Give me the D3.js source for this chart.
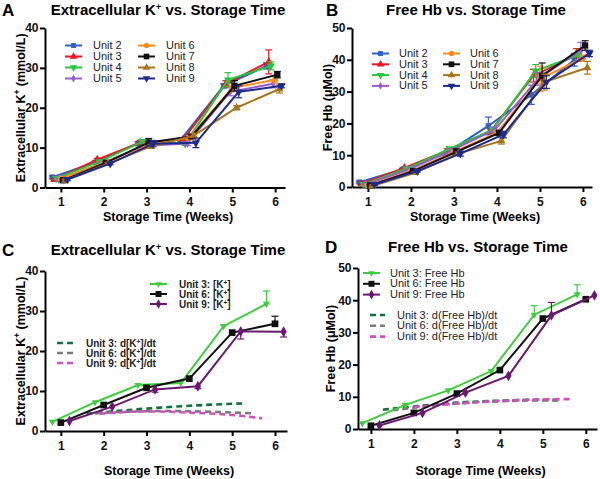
<!DOCTYPE html>
<html>
<head>
<meta charset="utf-8">
<script src="https://cdn.jsdelivr.net/npm/d3@7"></script>
<style>
body { margin: 0; background: #fff; }
svg { display: block; font-family: Arial, 'Liberation Sans', sans-serif; }
</style>
</head>
<body>
<div id="chart"></div>
<script>
// ---- data ----
var weeks = [1, 2, 3, 4, 5, 6];
var weekTicks = [1, 2, 3, 4, 5, 6];

var unitsAB = ['Unit 2', 'Unit 3', 'Unit 4', 'Unit 5', 'Unit 6', 'Unit 7', 'Unit 8', 'Unit 9'];

// panel A: extracellular K+ (mmol/L), one row per unit
var potassiumA = [
  [2.6, 6.3, 11.0, 12.0, 25.5, 30.5],
  [2.0, 7.0, 11.3, 12.0, 26.0, 31.5],
  [2.3, 6.5, 11.5, 11.0, 27.0, 30.5],
  [2.0, 6.0, 10.5, 11.0, 24.0, 26.0],
  [2.2, 6.2, 10.6, 12.5, 25.0, 27.0],
  [1.8, 6.2, 11.3, 12.8, 25.5, 28.3],
  [1.8, 6.0, 10.3, 13.0, 20.0, 24.7],
  [2.0, 6.0, 11.0, 11.2, 24.0, 25.5]
];
var potassiumErrA = [
  [0.3, 0.3, 0.5, 0.5, 0.5, 0.8],
  [0.3, 0.3, 0.5, 0.5, 0.8, 3.0],
  [0.3, 0.3, 0.5, 0.5, 1.8, 1.0],
  [0.3, 0.3, 0.5, 0.5, 1.0, 1.0],
  [0.3, 0.3, 0.5, 0.5, 1.0, 0.8],
  [0.3, 0.3, 1.0, 0.5, 1.3, 0.8],
  [0.3, 0.3, 0.5, 0.5, 0.5, 1.0],
  [0.3, 0.3, 0.8, 1.2, 1.5, 0.5]
];

// panel B: free Hb (uMol)
var freeHbB = [
  [1.5, 5.5, 10.5, 19.2, 29.0, 40.0],
  [1.0, 6.0, 11.5, 17.5, 35.0, 41.5],
  [0.8, 5.8, 12.0, 18.0, 36.5, 41.5],
  [0.8, 5.5, 11.5, 18.0, 34.0, 43.0],
  [0.5, 5.0, 11.0, 17.0, 34.0, 40.5],
  [0.5, 5.0, 11.0, 17.0, 35.0, 44.5],
  [0.3, 4.5, 10.5, 14.5, 33.0, 37.5],
  [0.8, 5.0, 10.5, 16.5, 33.0, 42.0]
];
var freeHbErrB = [
  [0.3, 0.3, 0.5, 2.8, 3.0, 2.0],
  [0.3, 0.3, 0.5, 0.8, 2.0, 2.0],
  [0.3, 0.3, 0.5, 0.8, 2.0, 1.5],
  [0.3, 0.3, 0.5, 0.8, 2.0, 2.5],
  [0.3, 0.3, 0.5, 0.8, 4.0, 1.0],
  [0.3, 0.3, 1.0, 0.8, 4.0, 1.5],
  [0.3, 0.3, 0.5, 1.0, 2.5, 2.0],
  [0.3, 0.3, 0.8, 1.0, 2.0, 1.0]
];

var unitsCD = ['Unit 3', 'Unit 6', 'Unit 9'];

// panel C: K+ for three units, signed one-sided error (+ up, - down)
var potassiumC = [
  [2.3, 7.2, 11.5, 12.0, 26.2, 31.8],
  [2.1, 6.5, 10.8, 13.1, 24.6, 26.8],
  [2.5, 6.1, 10.4, 11.2, 24.9, 24.8]
];
var potassiumErrC = [
  [0, 0, 0, 0, 0.3, 3.2],
  [0, 0, 0, 0, 0, 1.9],
  [0, 0, -0.7, -0.6, -1.9, -1.3]
];
// d[K+]/dt curves as [week, value]
var potassiumRateC = [
  [[1.6, 4.3], [2, 4.7], [3, 5.6], [4, 6.3], [5, 6.8], [5.3, 6.9]],
  [[1.8, 4.4], [2.5, 4.8], [3.5, 5.0], [4.5, 4.8], [5.5, 4.4]],
  [[1.9, 4.3], [3, 4.9], [4, 4.6], [5, 4.0], [5.7, 3.2]]
];

// panel D: free Hb for three units
var freeHbD = [
  [1.8, 7.5, 12.0, 18.0, 35.5, 41.8],
  [1.0, 5.0, 11.0, 18.3, 34.3, 40.3],
  [1.1, 5.0, 11.3, 16.5, 35.3, 41.5]
];
var freeHbErrD = [
  [0, 0, 0, 0, 2.8, 3.0],
  [0, 0, 0, 0, 0, 0],
  [0, 0, 0, 0, 4.0, 0]
];
var freeHbRateD = [
  [[1.28, 6.0], [2, 7.0], [3, 8.2], [4, 8.8], [5, 9.1], [5.45, 9.1]],
  [[1.5, 5.8], [2, 6.6], [3, 7.9], [4, 8.6], [5, 8.9], [5.45, 8.7]],
  [[2.0, 6.8], [3, 7.9], [4, 8.7], [5, 9.2], [5.7, 9.3]]
];

// ---- styles ----
var colorsAB = ['#2f5fc8', '#f0141e', '#22c83c', '#9a5ccc', '#ff8c1e', '#111111', '#a8741e', '#1e2a8c'];
var symbolsAB = ['square', 'triangle', 'triangleDown', 'diamond', 'circle', 'square', 'triangle', 'triangleDown'];
var offsetsAB = [-0.2, -0.15, -0.1, -0.05, 0, 0.05, 0.1, 0.15];

var colorsCD = ['#3ccc3c', '#111111', '#6a1a6e'];
var rateColorsCD = ['#12703a', '#7a7a7a', '#d050c0'];
var symbolsCD = ['triangleDown', 'square', 'diamond'];
var offsetsCD = [-0.2, 0, 0.2];

var width = 600, height = 479;
var svg = d3.select('#chart').append('svg')
  .attr('width', width)
  .attr('height', height);

function symbolPath(name, size) {
  var t = {square: d3.symbolSquare, triangle: d3.symbolTriangle, triangleDown: d3.symbolTriangle,
           diamond: d3.symbolDiamond, circle: d3.symbolCircle}[name];
  return d3.symbol().type(t).size(size)();
}
function markerTransform(name, x, y) {
  return 'translate(' + x + ',' + y + ')' + (name === 'triangleDown' ? ' rotate(180)' : '');
}

// text with superscript "+"
function richText(sel, parts, supSize) {
  parts.forEach(function(p) {
    var ts = sel.append('tspan').text(p[0]);
    if (p[1]) ts.attr('baseline-shift', 'super').attr('font-size', supSize);
  });
}

function panel(cfg) {
  var g = svg.append('g');
  var x = d3.scaleLinear().domain(cfg.xDomain).range(cfg.xRange);
  var y = d3.scaleLinear().domain(cfg.yDomain).range(cfg.yRange);

  // letter + title
  g.append('text').attr('x', cfg.letterX).attr('y', cfg.titleY + 1)
    .attr('font-size', 17).attr('font-weight', 'bold').text(cfg.letter);
  richText(g.append('text').attr('x', cfg.titleX).attr('y', cfg.titleY)
    .attr('text-anchor', 'middle').attr('font-size', 15).attr('font-weight', 'bold'), cfg.title, 9.5);

  // axes
  var yAxis = g.append('g').attr('transform', 'translate(' + cfg.xRange[0] + ',0)')
    .call(d3.axisLeft(y).tickValues(cfg.yTicks).tickFormat(d3.format('d')).tickSize(5).tickSizeOuter(0).tickPadding(1.5));
  var xAxis = g.append('g').attr('transform', 'translate(0,' + cfg.yRange[0] + ')')
    .call(d3.axisBottom(x).tickValues(weekTicks).tickFormat(d3.format('d')).tickSize(5).tickSizeOuter(0).tickPadding(cfg.xTickPad));
  [xAxis, yAxis].forEach(function(a) {
    a.select('.domain').attr('stroke', '#000').attr('stroke-width', 2);
    a.selectAll('.tick line').attr('stroke', '#000').attr('stroke-width', 2);
    a.selectAll('.tick text').attr('font-size', 12).attr('font-weight', 'bold')
      .attr('font-family', 'Arial, Liberation Sans, sans-serif').attr('fill', '#111');
  });

  g.append('text').attr('x', (cfg.xRange[0] + cfg.xRange[1]) / 2 + 3).attr('y', cfg.xTitleY)
    .attr('text-anchor', 'middle').attr('font-size', 12.5).attr('font-weight', 'bold')
    .text('Storage Time (Weeks)');
  richText(g.append('text')
    .attr('transform', 'translate(' + cfg.yTitleX + ',' + (cfg.yRange[0] + cfg.yRange[1]) / 2 + ') rotate(-90)')
    .attr('text-anchor', 'middle').attr('font-size', 12.5).attr('font-weight', 'bold'), cfg.yTitle, 8.5);

  // derivative (dashed) curves
  if (cfg.rates) {
    var rl = d3.line().curve(d3.curveMonotoneX).x(function(d) { return x(d[0]); }).y(function(d) { return y(d[1]); });
    cfg.rates.forEach(function(r, i) {
      g.append('path').attr('d', rl(r)).attr('fill', 'none')
        .attr('stroke', cfg.rateColors[i]).attr('stroke-width', 2.6).attr('stroke-dasharray', '6,4');
    });
  }

  // series
  cfg.series.forEach(function(vals, i) {
    var pts = weeks.map(function(w, j) { return {w: w + cfg.offsets[i], v: vals[j], e: cfg.errors[i][j]}; });
    var col = cfg.colors[i];
    var line = d3.line().x(function(d) { return x(d.w); }).y(function(d) { return y(d.v); });
    var s = g.append('g');
    // error bars
    pts.forEach(function(d) {
      if (!d.e) return;
      var ends = cfg.symErr ? [d.v - d.e, d.v + d.e] : [d.v, d.v + d.e];
      s.append('line').attr('x1', x(d.w)).attr('x2', x(d.w)).attr('y1', y(ends[0])).attr('y2', y(ends[1]))
        .attr('stroke', col).attr('stroke-width', 1.2);
      (cfg.symErr ? ends : [ends[1]]).forEach(function(e) {
        s.append('line').attr('x1', x(d.w) - 3.5).attr('x2', x(d.w) + 3.5).attr('y1', y(e)).attr('y2', y(e))
          .attr('stroke', col).attr('stroke-width', 1.2);
      });
    });
    s.append('path').attr('d', line(pts)).attr('fill', 'none').attr('stroke', col).attr('stroke-width', 2);
    s.selectAll('path.m').data(pts).enter().append('path').attr('class', 'm')
      .attr('d', symbolPath(cfg.symbols[i], cfg.markerSize[i]))
      .attr('transform', function(d) { return markerTransform(cfg.symbols[i], x(d.w), y(d.v)); })
      .attr('fill', col);
  });

  // legends
  cfg.legends.forEach(function(L) {
    L.names.forEach(function(name, k) {
      var col = Math.floor(k / L.perCol);
      var row = k % L.perCol;
      var ly = L.y0 + row * L.dy;
      var lx = L.x0 + col * L.colW;
      var idx = L.index[k];
      var c = L.dashed ? cfg.rateColors[idx] : cfg.colors[idx];
      g.append('line').attr('x1', lx).attr('x2', lx + L.len).attr('y1', ly).attr('y2', ly)
        .attr('stroke', c).attr('stroke-width', L.dashed ? 2.6 : 2)
        .attr('stroke-dasharray', L.dashed ? '6,4' : null);
      if (!L.dashed) {
        g.append('path').attr('d', symbolPath(cfg.symbols[idx], cfg.markerSize[idx] * 0.8))
          .attr('transform', markerTransform(cfg.symbols[idx], lx + L.len / 2, ly)).attr('fill', c);
      }
      var t = g.append('text').attr('x', lx + L.len + L.gap).attr('y', ly + 3.5)
        .attr('font-size', L.size).attr('font-weight', L.bold ? 'bold' : 'normal').attr('fill', '#222');
      richText(t, L.labels ? L.labels[k] : [[name, false]], 6.5);
    });
  });
}

var kTitle = [['Extracellular K', false], ['+', true], [' vs. Storage Time', false]];
var kYTitle = [['Extracellular K', false], ['+', true], [' (mmol/L)', false]];
var hbTitle = [['Free Hb vs. Storage Time', false]];
var hbYTitle = [['Free Hb (\u03bcMol)', false]];

panel({
  letter: 'A', letterX: 2, title: kTitle, titleX: 168, titleY: 15,
  xDomain: [0.63, 6.23], xRange: [45, 285], yDomain: [0, 40], yRange: [187.5, 28],
  yTicks: [0, 10, 20, 30, 40], xTickPad: 5, xTitleY: 221, yTitleX: 25, yTitle: kYTitle,
  series: potassiumA, errors: potassiumErrA, symErr: true,
  colors: colorsAB, symbols: symbolsAB, offsets: offsetsAB,
  markerSize: [30, 30, 30, 22, 28, 40, 30, 30],
  legends: [{names: unitsAB, index: d3.range(8), perCol: 4, x0: 65, y0: 45.5, dy: 11, colW: 73, len: 17, gap: 11, size: 11}]
});

panel({
  letter: 'B', letterX: 326, title: hbTitle, titleX: 476, titleY: 15,
  xDomain: [0.63, 6.21], xRange: [352, 592], yDomain: [0, 50], yRange: [187, 28],
  yTicks: [0, 10, 20, 30, 40, 50], xTickPad: 5, xTitleY: 221, yTitleX: 332, yTitle: hbYTitle,
  series: freeHbB, errors: freeHbErrB, symErr: true,
  colors: colorsAB, symbols: symbolsAB, offsets: offsetsAB,
  markerSize: [30, 30, 30, 22, 28, 40, 30, 30],
  legends: [{names: unitsAB, index: d3.range(8), perCol: 4, x0: 372, y0: 53.5, dy: 10.8, colW: 71, len: 17, gap: 10, size: 11}]
});

panel({
  letter: 'C', letterX: 2, title: kTitle, titleX: 168, titleY: 255,
  xDomain: [0.63, 6.28], xRange: [45, 287], yDomain: [0, 40], yRange: [431, 271],
  yTicks: [0, 10, 20, 30, 40], xTickPad: 5, xTitleY: 475, yTitleX: 25, yTitle: kYTitle,
  series: potassiumC, errors: potassiumErrC, symErr: false,
  colors: colorsCD, symbols: symbolsCD, offsets: offsetsCD, markerSize: [22, 45, 34],
  rates: potassiumRateC, rateColors: rateColorsCD,
  legends: [
    {names: unitsCD, index: [0, 1, 2], perCol: 3, x0: 150, y0: 284, dy: 10, colW: 0, len: 17, gap: 12, size: 10, bold: true,
     labels: unitsCD.map(function(u) { return [[u + ': [K', false], ['+', true], [']', false]]; })},
    {names: unitsCD, index: [0, 1, 2], perCol: 3, x0: 57, y0: 343, dy: 10, colW: 0, len: 18, gap: 11, size: 10, bold: true, dashed: true,
     labels: unitsCD.map(function(u) { return [[u + ': d[K', false], ['+', true], [']/dt', false]]; })}
  ]
});

panel({
  letter: 'D', letterX: 325, title: hbTitle, titleX: 478, titleY: 252,
  xDomain: [0.7, 6.26], xRange: [358, 597], yDomain: [0, 50], yRange: [429, 268],
  yTicks: [0, 10, 20, 30, 40, 50], xTickPad: 5, xTitleY: 475, yTitleX: 335, yTitle: hbYTitle,
  series: freeHbD, errors: freeHbErrD, symErr: false,
  colors: colorsCD, symbols: symbolsCD, offsets: offsetsCD, markerSize: [22, 45, 34],
  rates: freeHbRateD, rateColors: rateColorsCD,
  legends: [
    {names: unitsCD, index: [0, 1, 2], perCol: 3, x0: 363, y0: 273, dy: 10.8, colW: 0, len: 17, gap: 10, size: 11,
     labels: unitsCD.map(function(u) { return [[u + ': Free Hb', false]]; })},
    {names: unitsCD, index: [0, 1, 2], perCol: 3, x0: 370, y0: 315, dy: 10.8, colW: 0, len: 15, gap: 12, size: 11, dashed: true,
     labels: unitsCD.map(function(u) { return [[u + ': d(Free Hb)/dt', false]]; })}
  ]
});
</script>
</body>
</html>
